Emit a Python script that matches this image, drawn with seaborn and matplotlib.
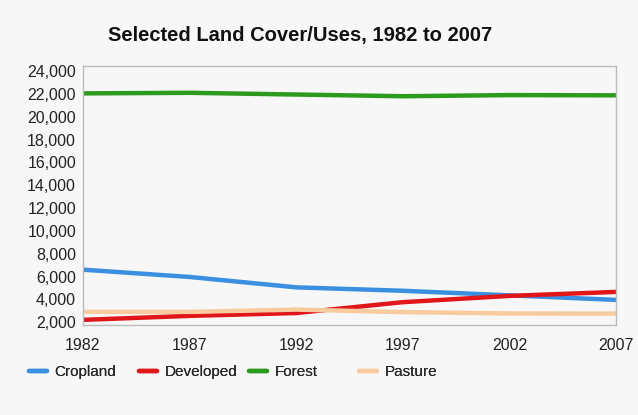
import matplotlib
matplotlib.use("Agg")
import matplotlib.pyplot as plt
import seaborn as sns
import pandas as pd
from matplotlib.ticker import FuncFormatter
from matplotlib.lines import Line2D

years = [1982, 1987, 1992, 1997, 2002, 2007]
cropland = [6600, 5960, 5050, 4750, 4350, 3950]
developed = [2200, 2550, 2800, 3750, 4300, 4650]
forest = [22050, 22100, 21950, 21800, 21900, 21880]
pasture = [2900, 2900, 3100, 2880, 2760, 2750]
series_names = ["Cropland", "Developed", "Forest", "Pasture"]
colors = ["#3a8fe0", "#e0161b", "#2c9a1c", "#f7cb9e"]

df = pd.DataFrame({"Year": years, "Cropland": cropland, "Developed": developed,
                   "Forest": forest, "Pasture": pasture})
long = df.melt(id_vars="Year", var_name="Use", value_name="Value")

sns.set_theme(style="white")
plt.rcParams['font.family'] = ['Liberation Sans', 'DejaVu Sans']
bg = "#f7f7f7"
fig = plt.figure(figsize=(6.38, 4.15), dpi=100, facecolor=bg)
ax = fig.add_axes([83/638, 1-325/415, (616-83)/638, (325-66)/415])
ax.set_facecolor(bg)

sns.lineplot(data=long, x="Year", y="Value", hue="Use", hue_order=series_names,
             palette=colors, linewidth=3.2, ax=ax, legend=False)

ax.set_xlim(1982, 2007)
ax.set_ylim(1750, 24450)
ax.set_xticks(years)
ax.set_yticks(list(range(2000, 24001, 2000)))
ax.yaxis.set_major_formatter(FuncFormatter(lambda v, p: f"{int(v):,}"))
ax.set_xlabel("")
ax.set_ylabel("")
ax.tick_params(axis="both", labelsize=11.5, colors="#222222", length=3, width=0.8,
               direction="out", pad=2)
ax.tick_params(axis="x", pad=6)
for s in ax.spines.values():
    s.set_color("#bbbbbb")
    s.set_linewidth(1)

fig.text(300/638, 1-35/415, "Selected Land Cover/Uses, 1982 to 2007", ha="center",
         va="center", fontsize=14.5, fontweight="bold", color="#111111")

starts = [35, 145, 255, 365]
for name, c, x0 in zip(series_names, colors, starts):
    leg = fig.legend([Line2D([], [], color=c, linewidth=3.2)], [name],
                     loc="center left", bbox_to_anchor=(x0/638 - 0.01, 1-372/415),
                     frameon=False, fontsize=11, handlelength=1.2, handletextpad=0.5,
                     borderaxespad=0, borderpad=0)
    fig.add_artist(leg)

fig.savefig("out.png", dpi=100, facecolor=bg)
